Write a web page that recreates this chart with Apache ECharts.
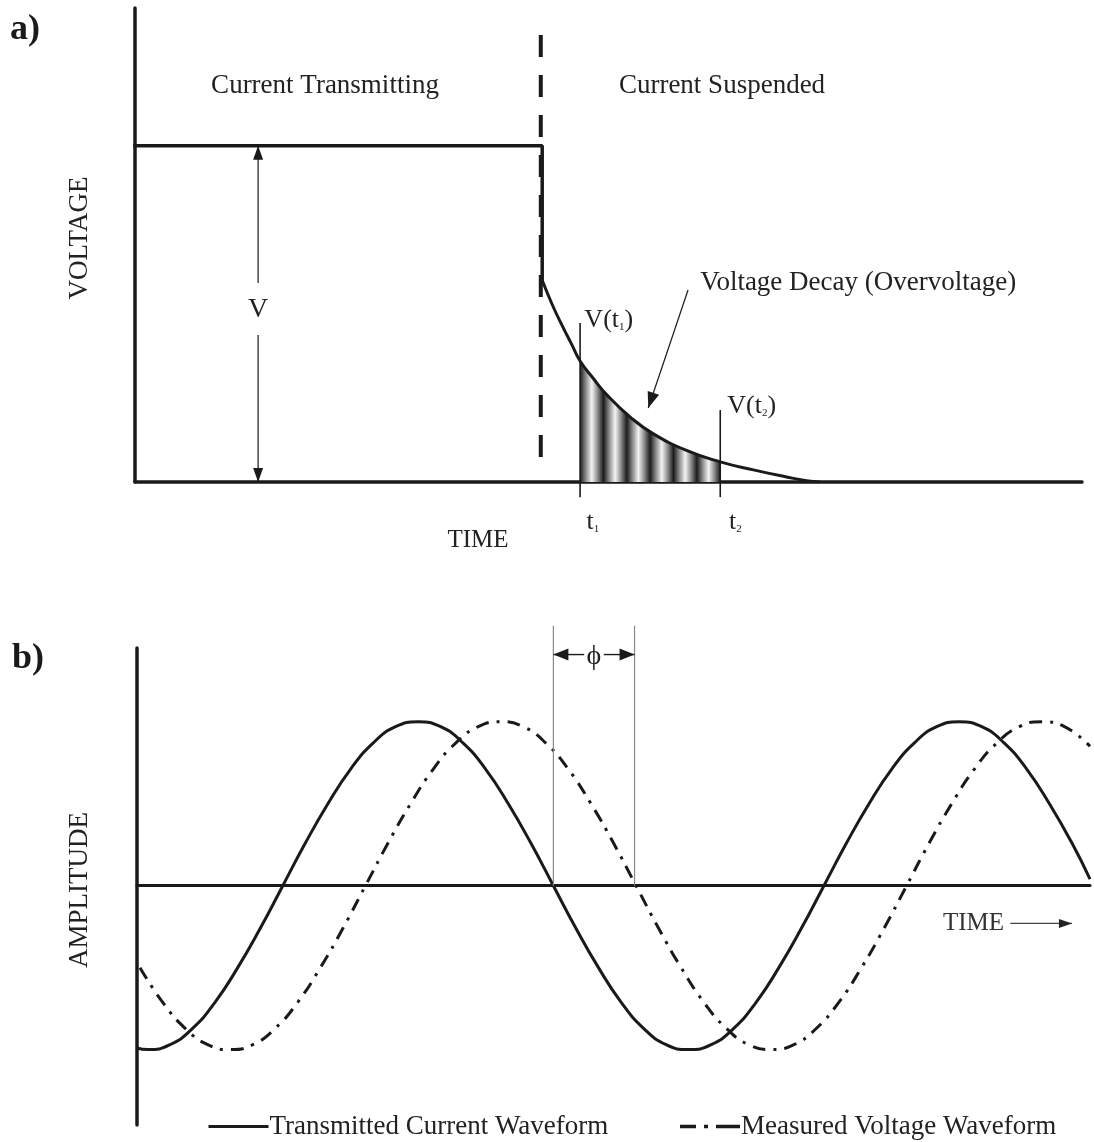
<!DOCTYPE html>
<html><head><meta charset="utf-8">
<script src="https://cdn.jsdelivr.net/npm/echarts@6/dist/echarts.min.js"></script>
<style>html,body{margin:0;padding:0;background:#fff}#c{width:1094px;height:1142px}</style>
</head><body><div id="c"></div>
<script>
// ---------- Panel a : decay (time units 0..100, voltage % of V) ----------
const stepTime  = [0, 43, 43];
const stepVolt  = [100, 100, 60];
const decayTime = [43, 44.1, 45.2, 46.1, 47.0, 48.4, 49.8, 52.3, 54.7, 58.3, 61.8, 65.3, 68.8, 70.9, 72.3];
const decayVolt = [60, 52.5, 46.0, 41.0, 36.0, 30.8, 26.0, 19.3, 14.4, 9.3, 6.0, 3.6, 1.5, 0.4, 0];
const t1 = 47.0, t2 = 61.8;
const switchOff = 43;
const levelV = 100;
// ---------- Panel b : waveforms (phase degrees, amplitude) ----------
const currentPhase = [0, 7, 22, 37, 52, 67, 82, 97, 112, 127, 142, 157, 172, 187, 202, 217, 232, 247, 262, 277, 292, 307, 322, 337, 352,
  367, 382, 397, 412, 427, 442, 457, 472, 487, 502, 517, 532, 547, 562, 577, 592, 607, 622, 634];
const currentAmp   = [-0.99, -1, -0.97, -0.87, -0.71, -0.5, -0.26, 0, 0.26, 0.5, 0.71, 0.87, 0.97, 1, 0.97, 0.87, 0.71, 0.5, 0.26, 0, -0.26, -0.5, -0.71, -0.87, -0.97,
  -1, -0.97, -0.87, -0.71, -0.5, -0.26, 0, 0.26, 0.5, 0.71, 0.87, 0.97, 1, 0.97, 0.87, 0.71, 0.5, 0.26, 0.04];
const voltagePhase = [2, 17, 32, 47, 62, 77, 92, 107, 122, 137, 152, 167, 182, 197, 212, 227, 242, 257, 272, 287, 302, 317, 332,
  347, 362, 377, 392, 407, 422, 437, 452, 467, 482, 497, 512, 527, 542, 557, 572, 587, 602, 617, 634];
const voltageAmp   = [-0.5, -0.71, -0.87, -0.97, -1, -0.97, -0.87, -0.71, -0.5, -0.26, 0, 0.26, 0.5, 0.71, 0.87, 0.97, 1, 0.97, 0.87, 0.71, 0.5, 0.26, 0,
  -0.26, -0.5, -0.71, -0.87, -0.97, -1, -0.97, -0.87, -0.71, -0.5, -0.26, 0, 0.26, 0.5, 0.71, 0.87, 0.97, 1, 0.97, 0.85];
const phiStart = 277, phiEnd = 331;
const seriesNames = ['Transmitted Current Waveform', 'Measured Voltage Waveform'];

const zip = (a, b) => a.map((v, i) => [v, b[i]]);
const shade = zip(decayTime, decayVolt).filter(p => p[0] >= t1 - 1e-9 && p[0] <= t2 + 1e-9);

const FONT = '"Liberation Serif", "Times New Roman", serif';
const INK = '#1a1a1a';

function seg(p, q, w, color, dash) {
  return {type: 'line', shape: {x1: p[0], y1: p[1], x2: q[0], y2: q[1]},
    style: {stroke: color || INK, lineWidth: w, lineDash: dash || null}};
}
function head(from, tip, len, half, color) {
  const dx = tip[0] - from[0], dy = tip[1] - from[1], L = Math.hypot(dx, dy);
  const ux = dx / L, uy = dy / L, bx = tip[0] - ux * len, by = tip[1] - uy * len;
  return {type: 'polygon', shape: {points: [[tip[0], tip[1]], [bx - uy * half, by + ux * half], [bx + uy * half, by - ux * half]]},
    style: {fill: color || INK}};
}
function txt(p, text, size, align, rich) {
  return {type: 'text', x: p[0], y: p[1], style: {text: text, fontSize: size, fontFamily: FONT, fill: '#222',
    align: align || 'center', verticalAlign: 'middle', rich: rich || undefined}};
}
const subRich = (size) => ({m: {fontSize: size, fontFamily: FONT, fill: '#222'}, s: {fontSize: 11, fontFamily: FONT, fill: '#222', verticalAlign: 'bottom'}});

function renderA(params, api) {
  const c = (x, y) => api.coord([x, y]);
  const ch = [];
  ch.push(seg(c(switchOff - 0.15, 133), c(switchOff - 0.15, 4), 4, INK, [22, 18]));
  const vx = 13;
  ch.push(seg(c(vx, levelV), c(vx, 59.2), 1.2));
  ch.push(seg(c(vx, 43.7), c(vx, 0), 1.2));
  ch.push(head(c(vx, levelV - 8), c(vx, levelV), 14, 5));
  ch.push(head(c(vx, 8), c(vx, 0), 14, 5));
  ch.push(txt(c(vx, 51.2), 'V', 28));
  ch.push(seg(c(t1, 47.3), c(t1, -4.5), 1.6));
  ch.push(seg(c(t2, 21.4), c(t2, -4.5), 1.6));
  ch.push(txt(c(t1 + 0.45, 48.2), '{m|V(t}{s|1}{m|)}', 26, 'left', subRich(26)));
  ch.push(txt(c(t2 + 0.75, 22.6), '{m|V(t}{s|2}{m|)}', 26, 'left', subRich(26)));
  ch.push(txt(c(t1 + 1.35, -11.9), '{m|t}{s|1}', 26, 'center', subRich(26)));
  ch.push(txt(c(t2 + 1.6, -11.9), '{m|t}{s|2}', 26, 'center', subRich(26)));
  const a0 = c(58.4, 57.1), a1 = c(54.2, 22.0);
  ch.push(seg(a0, a1, 1.2));
  ch.push(head(a0, a1, 16, 6));
  ch.push(txt(c(59.7, 59.2), 'Voltage Decay (Overvoltage)', 27, 'left'));
  return {type: 'group', children: ch};
}

function renderB(params, api) {
  const c = (x, y) => api.coord([x, y]);
  const ch = [];
  ch.push(seg(c(phiStart, 1.585), c(phiStart, 0), 1.2, '#8a8a8a'));
  ch.push(seg(c(phiEnd, 1.585), c(phiEnd, 0), 1.2, '#8a8a8a'));
  const mid = (phiStart + phiEnd) / 2, y = 1.41;
  ch.push(seg(c(phiStart, y), c(mid - 6.5, y), 1.4));
  ch.push(seg(c(mid + 6.5, y), c(phiEnd, y), 1.4));
  ch.push(head(c(phiStart + 10, y), c(phiStart, y), 15, 6));
  ch.push(head(c(phiEnd - 10, y), c(phiEnd, y), 15, 6));
  ch.push(txt(c(mid, y - 0.01), 'ϕ', 28));
  ch.push(seg(c(581, -0.23), c(622, -0.23), 1.2, '#444'));
  ch.push(head(c(610, -0.23), c(622, -0.23), 13, 4.5, '#222'));
  return {type: 'group', children: ch};
}

const bands = 6, stops = [];
for (let i = 0; i < bands; i++) {
  stops.push({offset: i / bands, color: '#1c1c1c'});
  stops.push({offset: (i + 0.25) / bands, color: '#8c8c8c'});
  stops.push({offset: (i + 0.5) / bands, color: '#f4f4f4'});
  stops.push({offset: (i + 0.75) / bands, color: '#8c8c8c'});
}
stops.push({offset: 1, color: '#1c1c1c'});

const axisLine = {show: true, onZero: true, lineStyle: {color: INK, width: 3.5}};
const hidden = {axisTick: {show: false}, axisLabel: {show: false}, splitLine: {show: false}};

const chart = echarts.init(document.getElementById('c'), null, {renderer: 'canvas'});
chart.setOption({
  animation: false,
  backgroundColor: '#fff',
  grid: [
    {left: 135, top: 8, right: 12, height: 474},
    {left: 137, top: 648, right: 4, height: 477}
  ],
  xAxis: [
    Object.assign({type: 'value', gridIndex: 0, min: 0, max: 100, axisLine: axisLine}, hidden),
    Object.assign({type: 'value', gridIndex: 1, min: 0, max: 634, axisLine: {show: true, onZero: true, lineStyle: {color: INK, width: 3}}}, hidden)
  ],
  yAxis: [
    Object.assign({type: 'value', gridIndex: 0, min: 0, max: 141, axisLine: axisLine}, hidden),
    Object.assign({type: 'value', gridIndex: 1, min: -1.46, max: 1.45, axisLine: {show: true, onZero: false, lineStyle: {color: INK, width: 3.5}}}, hidden)
  ],
  legend: {
    data: [
      {name: seriesNames[0], lineStyle: {width: 3, type: 'solid'}},
      {name: seriesNames[1], lineStyle: {width: 3.5, type: [16, 8, 4, 8, 30]}}
    ],
    left: 202, top: 1108, itemWidth: 60, itemHeight: 14, itemGap: 70,
    itemStyle: {opacity: 0},
    textStyle: {fontFamily: FONT, fontSize: 27, color: '#222', padding: [0, 0, 0, -4]}
  },
  graphic: [
    {type: 'text', left: 10, top: 12, style: {text: 'a)', font: 'bold 36px ' + FONT, fill: INK}},
    {type: 'text', left: 12, top: 641, style: {text: 'b)', font: 'bold 36px ' + FONT, fill: INK}},
    {type: 'text', x: 325, y: 86, style: {text: 'Current Transmitting', fontSize: 27, fontFamily: FONT, fill: '#222', align: 'center', verticalAlign: 'middle'}},
    {type: 'text', x: 722, y: 86, style: {text: 'Current Suspended', fontSize: 27, fontFamily: FONT, fill: '#222', align: 'center', verticalAlign: 'middle'}},
    {type: 'text', x: 80, y: 238, rotation: Math.PI / 2, style: {text: 'VOLTAGE', fontSize: 27, fontFamily: FONT, fill: '#222', align: 'center', verticalAlign: 'middle'}},
    {type: 'text', x: 80, y: 890, rotation: Math.PI / 2, style: {text: 'AMPLITUDE', fontSize: 27, fontFamily: FONT, fill: '#222', align: 'center', verticalAlign: 'middle'}},
    {type: 'text', x: 478, y: 540, style: {text: 'TIME', fontSize: 25, fontFamily: FONT, fill: '#222', align: 'center', verticalAlign: 'middle'}},
    {type: 'text', x: 1004, y: 923, style: {text: 'TIME', fontSize: 25, fontFamily: FONT, fill: '#333', align: 'right', verticalAlign: 'middle'}}
  ],
  series: [
    {type: 'line', xAxisIndex: 0, yAxisIndex: 0, data: shade, smooth: true, symbol: 'none', silent: true, z: 1,
      lineStyle: {width: 0}, areaStyle: {opacity: 1, color: new echarts.graphic.LinearGradient(0, 0, 1, 0, stops)}},
    {type: 'line', xAxisIndex: 0, yAxisIndex: 0, data: zip(stepTime, stepVolt), symbol: 'none', z: 3,
      lineStyle: {color: INK, width: 3.5, cap: 'square'}},
    {type: 'line', xAxisIndex: 0, yAxisIndex: 0, data: zip(decayTime, decayVolt), smooth: true, symbol: 'none', z: 3,
      lineStyle: {color: INK, width: 3}},
    {type: 'custom', xAxisIndex: 0, yAxisIndex: 0, data: [[0, 0]], renderItem: renderA, clip: false, silent: true, z: 4},
    {name: seriesNames[0], type: 'line', xAxisIndex: 1, yAxisIndex: 1, data: zip(currentPhase, currentAmp), smooth: true, symbol: 'none', z: 3,
      lineStyle: {color: INK, width: 3}, itemStyle: {color: INK}},
    {name: seriesNames[1], type: 'line', xAxisIndex: 1, yAxisIndex: 1, data: zip(voltagePhase, voltageAmp), smooth: true, symbol: 'none', z: 3,
      lineStyle: {color: INK, width: 3, type: [13, 8, 3, 8]}, itemStyle: {color: INK}},
    {type: 'custom', xAxisIndex: 1, yAxisIndex: 1, data: [[0, 0]], renderItem: renderB, clip: false, silent: true, z: 4}
  ]
});
</script></body></html>
